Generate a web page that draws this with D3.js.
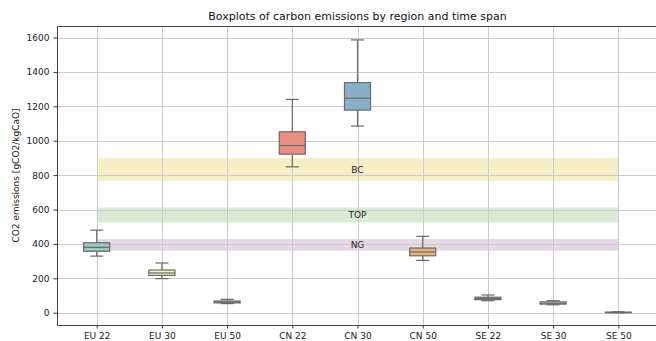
<!DOCTYPE html>
<html>
<head>
<meta charset="utf-8">
<script src="https://cdn.jsdelivr.net/npm/d3@7"></script>
<style>
  html, body { margin: 0; padding: 0; background: #fff; }
  svg { display: block; font-family: "DejaVu Sans", sans-serif; }
</style>
</head>
<body>
<svg id="chart" width="656" height="341"></svg>
<script>
// Region / time-span groups
const categories = ["EU 22", "EU 30", "EU 50", "CN 22", "CN 30", "CN 50", "SE 22", "SE 30", "SE 50"];
// Box statistics per group (gCO2/kgCaO)
const whiskerLow  = [329, 198, 53, 848, 1085, 304, 70, 46, 0];
const quartile1   = [357, 217, 57, 922, 1178, 331, 76, 50, 1];
const medians     = [380, 231, 62, 972, 1247, 353, 83, 55, 2];
const quartile3   = [407, 248, 68, 1052, 1338, 376, 90, 63, 3];
const whiskerHigh = [480, 289, 78, 1240, 1586, 444, 103, 70, 5];

// Reference ranges for other processes
const bandNames = ["BC", "TOP", "NG"];
const bandLow   = [765, 525, 360];
const bandHigh  = [900, 612, 428];

const yTicks = [0, 200, 400, 600, 800, 1000, 1200, 1400, 1600];

const palette = ["#8dd3c7", "#ffffb3", "#bebada", "#fb8072", "#80b1d3", "#fdb462", "#b3de69", "#fccde5", "#d9d9d9"];
const bandColors = ["#f6efc6", "#d9ebd5", "#e6d8e7"];

const svg = d3.select("#chart");
const plotLeft = 57, plotRight = 658, plotTop = 26, plotBottom = 325;

const x = d3.scaleLinear().domain([0.391, 9.609]).range([plotLeft, plotRight]);
const y = d3.scaleLinear().domain([-71.5, 1667]).range([plotBottom, plotTop]);
const pos = i => x(i + 1);

const boxW = x(1.4) - x(1);
const capW = boxW / 2;

// Background bands
const bands = svg.append("g");
bandNames.forEach((name, i) => {
  bands.append("rect")
    .attr("x", pos(0)).attr("width", pos(8) - pos(0))
    .attr("y", y(bandHigh[i])).attr("height", y(bandLow[i]) - y(bandHigh[i]))
    .attr("fill", bandColors[i]);
});

// Grid
const grid = svg.append("g").attr("stroke", "#cbcbcb").attr("stroke-width", 1);
yTicks.forEach(t => {
  grid.append("line").attr("x1", plotLeft).attr("x2", plotRight)
    .attr("y1", Math.round(y(t)) + 0.5).attr("y2", Math.round(y(t)) + 0.5);
});
categories.forEach((c, i) => {
  grid.append("line").attr("y1", plotTop).attr("y2", plotBottom)
    .attr("x1", Math.round(pos(i)) + 0.5).attr("x2", Math.round(pos(i)) + 0.5);
});

// Band labels at the middle group
bandNames.forEach((name, i) => {
  svg.append("text")
    .attr("x", pos(4)).attr("y", y((bandLow[i] + bandHigh[i]) / 2))
    .attr("text-anchor", "middle").attr("dominant-baseline", "central")
    .attr("font-size", 9).attr("fill", "#222")
    .text(name);
});

// Boxplots
const edge = "#6a6a6a";
const boxes = svg.append("g").attr("stroke", edge).attr("stroke-width", 1.2);
categories.forEach((c, i) => {
  const cx = pos(i);
  const col = d3.hsl(palette[i]);
  col.s *= 0.75;
  const g = boxes.append("g");
  g.append("line").attr("x1", cx).attr("x2", cx).attr("y1", y(whiskerHigh[i])).attr("y2", y(quartile3[i]));
  g.append("line").attr("x1", cx).attr("x2", cx).attr("y1", y(quartile1[i])).attr("y2", y(whiskerLow[i]));
  g.append("line").attr("x1", cx - capW / 2).attr("x2", cx + capW / 2).attr("y1", y(whiskerHigh[i])).attr("y2", y(whiskerHigh[i]));
  g.append("line").attr("x1", cx - capW / 2).attr("x2", cx + capW / 2).attr("y1", y(whiskerLow[i])).attr("y2", y(whiskerLow[i]));
  g.append("rect").attr("x", cx - boxW / 2).attr("width", boxW)
    .attr("y", y(quartile3[i])).attr("height", Math.max(0.5, y(quartile1[i]) - y(quartile3[i])))
    .attr("fill", col.formatHex());
  g.append("line").attr("x1", cx - boxW / 2).attr("x2", cx + boxW / 2).attr("y1", y(medians[i])).attr("y2", y(medians[i]));
});

// Axes
const xAxis = d3.axisBottom(x).tickValues(d3.range(1, 10)).tickFormat(d => categories[d - 1]).tickSize(3.5).tickPadding(4);
const yAxis = d3.axisLeft(y).tickValues(yTicks).tickFormat(d3.format("d")).tickSize(3.5).tickPadding(4);

const gx = svg.append("g").attr("transform", `translate(0,${plotBottom})`).call(xAxis);
const gy = svg.append("g").attr("transform", `translate(${plotLeft},0)`).call(yAxis);
[gx, gy].forEach(g => {
  g.select(".domain").remove();
  g.selectAll("line").attr("stroke", "#333");
  g.selectAll("text").attr("font-size", 9).attr("fill", "#222").attr("font-family", "DejaVu Sans, sans-serif");
});

// Spines
const spines = svg.append("g").attr("stroke", "#444").attr("stroke-width", 1).attr("fill", "none");
spines.append("path").attr("d", `M${plotRight},${plotTop + 0.5}H${plotLeft + 0.5}V${plotBottom + 0.5}H${plotRight}`);

// Title and axis label
svg.append("text").attr("x", (plotLeft + plotRight) / 2).attr("y", 20)
  .attr("text-anchor", "middle").attr("font-size", 11).attr("fill", "#111")
  .text("Boxplots of carbon emissions by region and time span");

svg.append("text")
  .attr("transform", `translate(19,${(plotTop + plotBottom) / 2}) rotate(-90)`)
  .attr("text-anchor", "middle").attr("font-size", 9).attr("fill", "#222")
  .text("CO2 emissions [gCO2/kgCaO]");
</script>
</body>
</html>
